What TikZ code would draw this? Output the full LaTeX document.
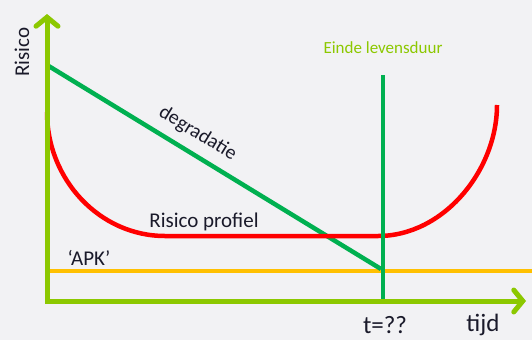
\documentclass[tikz,border=0pt]{standalone}
\usepackage{fontspec}
\setmainfont{Carlito}
\usetikzlibrary{
  arrows.meta % For arrow tips
}
\definecolor{bgcol}{HTML}{F2F2F4}
\definecolor{axiscol}{HTML}{8CC800}
\definecolor{degcol}{HTML}{00B050}
\definecolor{apkcol}{HTML}{FFC000}
\definecolor{txtcol}{HTML}{1A1A2A}

\begin{document}
\begin{tikzpicture}[
      x=1pt, y=-1pt, % Pixel coordinates
      axis/.style={axiscol, line width=5pt, -{Straight Barb[length=9pt, width=22pt, line width=5pt, line cap=round]}},
      degr/.style={degcol, line width=4.5pt},
      profiel/.style={red, line width=4.5pt},
      apk/.style={apkcol, line width=4.5pt},
      label/.style={text=txtcol, font=\fontsize{21}{24}\selectfont, inner sep=0pt},
      biglabel/.style={label, font=\fontsize{25}{28}\selectfont},
    ]
    % Achtergrond
    \fill[bgcol] (0,0) rectangle (532,340);
    \useasboundingbox (0,0) rectangle (532,340);
    % Koordinaten van Punte
    \coordinate (O) at (47,301);
    \coordinate (Ytop) at (47,14);
    \coordinate (Xend) at (526,301);
    \coordinate (Dstart) at (47,65);
    \coordinate (Dend) at (381,269);
    \coordinate (Etop) at (383,75);
    \coordinate (Ebot) at (383,303);
    \coordinate (Astart) at (47,271);
    \coordinate (Aend) at (532,271);
    % APK
    \draw[apk] (Astart) -- (Aend);
    % Degradatie
    \draw[degr] (Dstart) -- (Dend)
    node[pos=0.42, above, sloped, label, font=\fontsize{20}{24}\selectfont, yshift=9pt] {degradatie};
    % Risico profiel
    \draw[profiel] (47,112) .. controls (47,180) and (100,236) .. (165,236)
    -- (378,236) .. controls (444,236) and (497,170) .. (497,105);
    % Einde levensduur
    \draw[degr] (Etop) -- (Ebot);
    % Assen
    \draw[axis, line cap=rect] (O) -- (Ytop);
    \draw[axis, line cap=rect] (O) -- (Xend);
    % Beschriftung
    \node[label, rotate=90] (risico) at (22,52) {Risico};
    \node[label, text=axiscol, font=\fontsize{17}{20}\selectfont] (einde) at (383,48) {Einde levensduur};
    \node[label] (profieltxt) at (204,222) {Risico profiel};
    \node[label] (apktxt) at (89,258) {‘APK’};
    \node[biglabel] (tval) at (385,325) {t=??};
    \node[biglabel] (tijd) at (483,325) {tijd};
  \end{tikzpicture}
\end{document}
